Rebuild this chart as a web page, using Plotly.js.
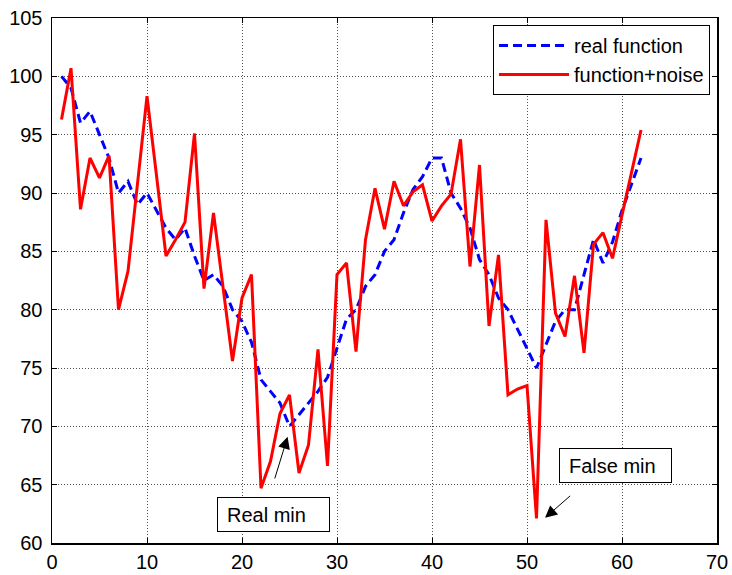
<!DOCTYPE html>
<html>
<head>
<meta charset="utf-8">
<script src="https://cdn.plot.ly/plotly-3.0.1.min.js"></script>
<style>
  html, body { margin: 0; padding: 0; background: #fff; }
  #chart { width: 732px; height: 575px; }
</style>
</head>
<body>
<div id="chart"></div>
<script>
// Sample index along the horizontal axis
const xs = [];
for (let i = 1; i <= 62; i++) xs.push(i);

// Underlying objective
const realFunction = [
  100, 99, 96, 97, 95, 93, 90, 91, 89, 90,
  88.5, 87, 86, 87, 84.6, 82.5, 83, 82, 80, 79,
  77.2, 74, 73, 72, 70, 71, 72, 73, 74.2, 76.8,
  79.2, 80, 82, 83, 85, 86, 88.3, 90.3, 91.4, 93,
  93, 90, 88.7, 87, 84.3, 83, 81, 80, 78.3, 76.7,
  75, 77, 79, 80, 80, 83, 86, 84, 85.8, 88.5,
  90.8, 93
];

// Same objective with measurement noise added
const functionNoise = [
  96.3, 100.7, 88.6, 93, 91.3, 93.2, 80, 83.3, 90.8, 98.3,
  91.5, 84.6, 86, 87.5, 95.1, 81.8, 88.3, 82, 75.6, 81,
  83, 64.7, 67, 71.1, 72.7, 66, 68.4, 76.6, 66.6, 83,
  84, 76.4, 86, 90.4, 86.9, 91, 88.9, 90.1, 90.7, 87.6,
  88.9, 89.9, 94.6, 83.7, 92.4, 78.6, 84.7, 72.7, 73.2, 73.5,
  62.1, 87.7, 79.7, 77.7, 82.9, 76.3, 85.6, 86.6, 84.4, 88.1,
  91.8, 95.4
];

const seriesNames = ['real function', 'function+noise'];
const xTicks = [0, 10, 20, 30, 40, 50, 60, 70];
const yTicks = [60, 65, 70, 75, 80, 85, 90, 95, 100, 105];

const FONT = 'Arial, "Liberation Sans", sans-serif';

const traces = [
  {
    x: xs, y: realFunction, name: seriesNames[0],
    type: 'scatter', mode: 'lines',
    line: { color: '#0000ff', width: 3, dash: '9px,5px' }
  },
  {
    x: xs, y: functionNoise, name: seriesNames[1],
    type: 'scatter', mode: 'lines',
    line: { color: '#ff0000', width: 3 }
  }
];

const axisCommon = {
  showline: true, linecolor: '#000', linewidth: 1.5,
  mirror: 'ticks', ticks: 'inside', ticklen: 5, tickcolor: '#000', tickwidth: 1,
  showgrid: true, gridcolor: '#505050', gridwidth: 1, griddash: '1px,2px',
  zeroline: false,
  tickfont: { family: FONT, size: 20, color: '#000' }
};

const layout = {
  width: 732, height: 575,
  margin: { l: 52, r: 15, t: 18, b: 32 },
  paper_bgcolor: '#fff', plot_bgcolor: '#fff',
  font: { family: FONT, size: 20, color: '#000' },
  xaxis: Object.assign({}, axisCommon, {
    range: [0, 70], tickvals: xTicks, ticktext: xTicks.map(String)
  }),
  yaxis: Object.assign({}, axisCommon, {
    range: [60, 105], tickvals: yTicks, ticktext: yTicks.map(String),
    ticklabelstandoff: 4
  }),
  showlegend: true,
  legend: {
    x: 0.9895, xanchor: 'right', y: 0.9865, yanchor: 'top',
    bgcolor: '#fff', bordercolor: '#000', borderwidth: 1,
    font: { family: FONT, size: 20, color: '#000' },
    itemwidth: 70
  },
  annotations: [
    {
      x: 23.33, y: 62.42, xref: 'x', yref: 'y',
      text: 'Real min', showarrow: false,
      xanchor: 'center', yanchor: 'middle',
      width: 93, height: 15, align: 'left', borderpad: 9,
      bordercolor: '#000', borderwidth: 1, bgcolor: '#fff',
      font: { family: FONT, size: 20, color: '#000' }
    },
    {
      x: 24.8, y: 69.1, xref: 'x', yref: 'y',
      ax: 23.4, ay: 65.4, axref: 'x', ayref: 'y',
      text: '', showarrow: true,
      arrowhead: 2, arrowsize: 2.4, arrowwidth: 1, arrowcolor: '#000'
    },
    {
      x: 59.3, y: 66.65, xref: 'x', yref: 'y',
      text: 'False min', showarrow: false,
      xanchor: 'center', yanchor: 'middle',
      width: 93, height: 15, align: 'left', borderpad: 9,
      bordercolor: '#000', borderwidth: 1, bgcolor: '#fff',
      font: { family: FONT, size: 20, color: '#000' }
    },
    {
      x: 51.9, y: 62.16, xref: 'x', yref: 'y',
      ax: 54.7, ay: 64.15, axref: 'x', ayref: 'y',
      text: '', showarrow: true,
      arrowhead: 2, arrowsize: 2.4, arrowwidth: 1, arrowcolor: '#000'
    }
  ]
};

Plotly.newPlot('chart', traces, layout, { displayModeBar: false, staticPlot: true });
</script>
</body>
</html>
